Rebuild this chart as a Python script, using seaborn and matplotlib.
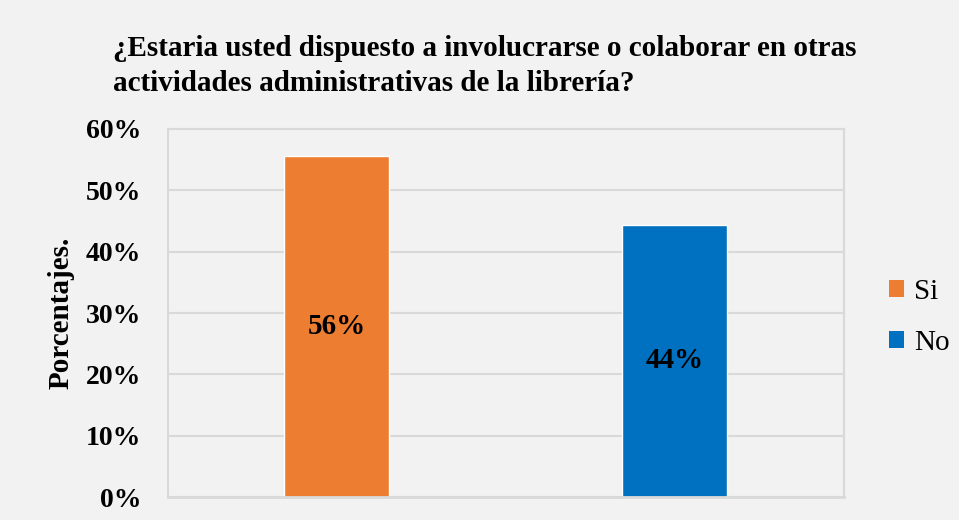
import matplotlib
matplotlib.use("Agg")
import matplotlib.pyplot as plt
import seaborn as sns
import pandas as pd
from matplotlib.patches import Patch

categories = ["Si", "No"]
values = [55.6, 44.4]
labels = ["56%", "44%"]
colors = ["#ED7D31", "#0070C0"]
yticks = [0, 10, 20, 30, 40, 50, 60]
ytick_labels = ["0%", "10%", "20%", "30%", "40%", "50%", "60%"]
title = "¿Estaria usted dispuesto a involucrarse o colaborar en otras\nactividades administrativas de la librería?"

sns.set_style("white")
plt.rcParams['font.family'] = ['Liberation Serif', 'DejaVu Serif']
plt.rcParams['text.color'] = 'black'
plt.rcParams['axes.labelcolor'] = 'black'
plt.rcParams['ytick.color'] = 'black'

df = pd.DataFrame({"cat": categories, "val": values})
fig = plt.figure(figsize=(9.59, 5.2), dpi=100, facecolor="#F2F2F2")
ax = fig.add_axes([0.175, 0.044, 0.705, 0.708])
ax.set_facecolor("#F2F2F2")

sns.barplot(data=df, x="cat", y="val", hue="cat", palette=colors, width=0.31,
            dodge=False, legend=False, ax=ax, saturation=1)

ax.set_xlim(-0.5, 1.5)
ax.set_ylim(0, 60)
ax.set_yticks(yticks)
ax.set_yticklabels(ytick_labels, fontsize=20, fontweight="bold")
ax.set_xticks([])
ax.set_xlabel("")
ax.set_ylabel("Porcentajes.", fontsize=21, fontweight="bold", labelpad=8)
ax.tick_params(axis="y", length=0, pad=19)
ax.yaxis.grid(True, color="#D9D9D9", linewidth=1.5)
ax.set_axisbelow(True)
for s in ["left", "right", "top"]:
    ax.spines[s].set_color("#D9D9D9")
    ax.spines[s].set_linewidth(1.5)
ax.spines["bottom"].set_color("#D9D9D9")
ax.spines["bottom"].set_linewidth(2)

for p, lab in zip(ax.patches, labels):
    ax.text(p.get_x() + p.get_width() / 2, p.get_height() / 2, lab,
            ha="center", va="center", fontsize=21, fontweight="bold", color="black")

fig.text(0.118, 0.873, title, fontsize=21, fontweight="bold", ha="left", va="center",
         linespacing=1.35)

handles = [Patch(facecolor=c, edgecolor="none") for c in colors]
fig.legend(handles, categories, loc="center left", bbox_to_anchor=(0.9, 0.39),
           frameon=False, fontsize=21, handlelength=0.5, handleheight=0.5,
           handletextpad=0.35, labelspacing=0.85)

fig.savefig("out.png", dpi=100, facecolor="#F2F2F2")
